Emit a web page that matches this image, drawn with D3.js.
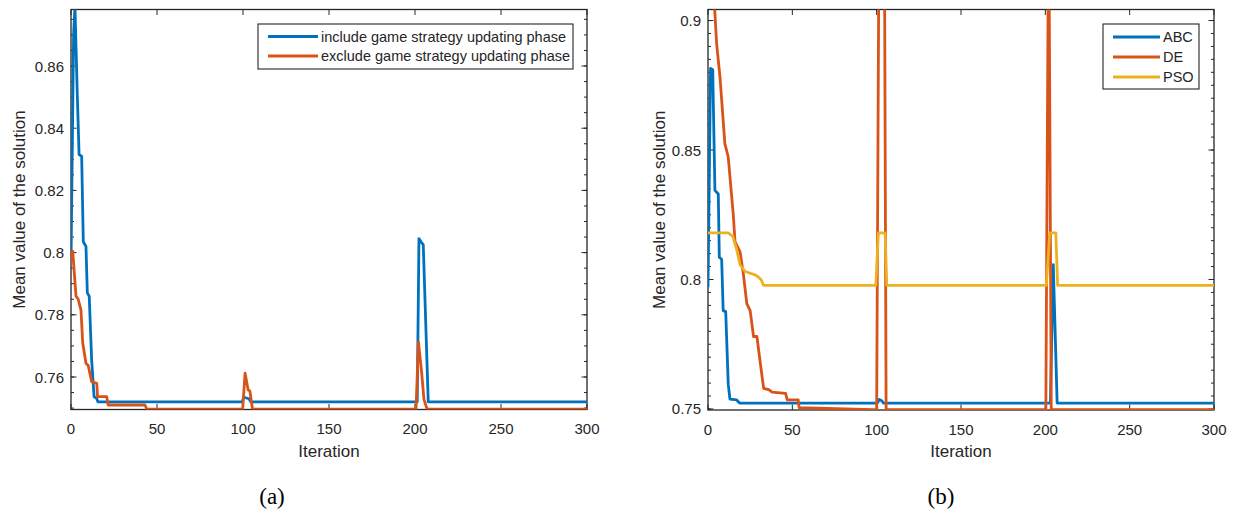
<!DOCTYPE html>
<html>
<head>
<meta charset="utf-8">
<script src="https://cdn.jsdelivr.net/npm/d3@7"></script>
<style>
  body { margin: 0; background: #fff; }
  text { font-family: "Liberation Sans", Arial, Helvetica, sans-serif; fill: #262626; }
</style>
</head>
<body>
<div id="chart"></div>
<script>
// ---- data ----
const iterTicks = [0, 50, 100, 150, 200, 250, 300];
const yTicksA = [0.76, 0.78, 0.8, 0.82, 0.84, 0.86];
const yTicksB = [0.75, 0.8, 0.85, 0.9];

// (a) include / exclude game strategy updating phase
const includeIter = [0, 1.5, 2.3, 3.7, 4.7, 6.2, 7.15, 8.7, 9.5, 10.6, 12, 13.4, 15, 15.7, 99.5, 100.5, 103.5, 104.5, 201.3, 202.3, 203.5, 204.8, 207.7, 300];
const includeVal  = [0.797, 0.87, 0.879, 0.85, 0.8315, 0.831, 0.8035, 0.802, 0.787, 0.786, 0.7655, 0.7537, 0.753, 0.752, 0.752, 0.7535, 0.753, 0.752, 0.752, 0.8045, 0.8035, 0.8025, 0.752, 0.752];

const excludeIter = [0, 1, 2.9, 4.2, 5.8, 6.8, 8.7, 10, 12, 15, 15.4, 20.7, 21.6, 43, 44, 99.8, 101.2, 103, 104, 105.5, 200.6, 202, 203.9, 205.2, 207, 300];
const excludeVal  = [0.797, 0.8005, 0.786, 0.785, 0.7815, 0.771, 0.7644, 0.7637, 0.7585, 0.758, 0.7537, 0.7537, 0.751, 0.751, 0.7497, 0.7497, 0.7612, 0.7558, 0.7555, 0.7497, 0.7497, 0.7713, 0.7612, 0.7528, 0.7497, 0.7497];

// (b) ABC / DE / PSO
const abcIter = [0, 1.5, 2.8, 4.1, 6.1, 6.7, 8.1, 9, 10.5, 12, 13, 17, 18.7, 100.5, 101.5, 103, 104, 203, 204.7, 207, 300];
const abcVal  = [0.797, 0.8815, 0.881, 0.8344, 0.833, 0.8086, 0.8078, 0.788, 0.7876, 0.7596, 0.7538, 0.7535, 0.7523, 0.7523, 0.7537, 0.7532, 0.7523, 0.7523, 0.8057, 0.7523, 0.7523];

const deIter = [0, 4, 5.1, 7.1, 10, 12, 15, 16, 19, 21, 23, 25, 27, 29, 31, 33, 36, 38, 46, 47, 53.5, 54, 98, 100, 101.5, 104.5, 105.6, 200.3, 202, 203.5, 300];
const deVal  = [0.91, 0.904, 0.8912, 0.8782, 0.8525, 0.8473, 0.825, 0.8146, 0.8107, 0.802, 0.7907, 0.788, 0.778, 0.778, 0.7677, 0.758, 0.7575, 0.7565, 0.756, 0.7535, 0.7535, 0.7505, 0.7497, 0.7497, 0.95, 0.95, 0.7497, 0.7497, 0.95, 0.7497, 0.7497];

const psoIter = [0, 12, 14.7, 17, 19, 22, 27.5, 29.5, 31.5, 33, 99.5, 101, 105, 106, 200.6, 202.6, 206.2, 207.3, 300];
const psoVal  = [0.818, 0.818, 0.8167, 0.8116, 0.8057, 0.8031, 0.8019, 0.8012, 0.7999, 0.7977, 0.7977, 0.818, 0.818, 0.7977, 0.7977, 0.818, 0.818, 0.7977, 0.7977];

const blue = "#0072BD", orange = "#D95319", yellow = "#EDB120";

const svg = d3.select("#chart").append("svg")
    .attr("width", 1233)
    .attr("height", 521);

function drawPanel(p) {
    const x = d3.scaleLinear().domain([0, 300]).range([p.left, p.right]);
    const y = d3.scaleLinear().domain(p.yDomain).range([p.bottom, p.top]);
    const g = svg.append("g");

    // clip for the lines
    g.append("clipPath").attr("id", p.id)
        .append("rect")
        .attr("x", p.left).attr("y", p.top)
        .attr("width", p.right - p.left).attr("height", p.bottom - p.top);

    // minor y ticks, left and right, pointing inwards
    const minor = d3.range(0.75, 0.905, 0.005).filter(v => v >= p.yDomain[0] && v <= p.yDomain[1]);
    const tk = g.append("g").attr("stroke", "#262626").attr("stroke-width", 1);
    minor.forEach(v => {
        tk.append("line").attr("x1", p.left).attr("x2", p.left + 3).attr("y1", y(v)).attr("y2", y(v));
        tk.append("line").attr("x1", p.right).attr("x2", p.right - 3).attr("y1", y(v)).attr("y2", y(v));
    });
    p.yTicks.forEach(v => {
        tk.append("line").attr("x1", p.left).attr("x2", p.left + 5.5).attr("y1", y(v)).attr("y2", y(v));
        tk.append("line").attr("x1", p.right).attr("x2", p.right - 5.5).attr("y1", y(v)).attr("y2", y(v));
    });
    iterTicks.forEach(v => {
        tk.append("line").attr("x1", x(v)).attr("x2", x(v)).attr("y1", p.bottom).attr("y2", p.bottom - 5.5);
        tk.append("line").attr("x1", x(v)).attr("x2", x(v)).attr("y1", p.top).attr("y2", p.top + 5.5);
    });

    // axes box
    g.append("rect")
        .attr("x", p.left).attr("y", p.top)
        .attr("width", p.right - p.left).attr("height", p.bottom - p.top)
        .attr("fill", "none").attr("stroke", "#262626").attr("stroke-width", 1.3);

    // tick labels
    g.selectAll("text.yt").data(p.yTicks).enter().append("text")
        .attr("class", "yt")
        .attr("x", p.left - 7).attr("y", d => y(d))
        .attr("text-anchor", "end").attr("dominant-baseline", "central")
        .style("font-size", "15px")
        .text(d => String(+d.toFixed(2)));
    g.selectAll("text.xt").data(iterTicks).enter().append("text")
        .attr("class", "xt")
        .attr("x", d => x(d)).attr("y", p.bottom + 19)
        .attr("text-anchor", "middle").attr("dominant-baseline", "central")
        .style("font-size", "15px")
        .text(d => d);

    // axis labels
    g.append("text")
        .attr("x", (p.left + p.right) / 2).attr("y", p.bottom + 47)
        .attr("text-anchor", "middle")
        .style("font-size", "17px")
        .text("Iteration");
    g.append("text")
        .attr("transform", `translate(${p.yLabelX}, ${(p.top + p.bottom) / 2}) rotate(-90)`)
        .attr("text-anchor", "middle")
        .style("font-size", "17px")
        .text("Mean value of the solution");

    // lines
    const line = d3.line().x(d => x(d[0])).y(d => y(d[1]));
    const lg = g.append("g").attr("clip-path", `url(#${p.id})`);
    p.series.forEach(s => {
        lg.append("path")
            .datum(d3.zip(s.iter, s.val))
            .attr("d", line)
            .attr("fill", "none")
            .attr("stroke", s.color)
            .attr("stroke-width", 2.8)
            .attr("stroke-linejoin", "round");
    });

    // legend
    const L = p.legend;
    g.append("rect")
        .attr("x", L.x).attr("y", L.y).attr("width", L.w).attr("height", L.h)
        .attr("fill", "#fff").attr("stroke", "#262626").attr("stroke-width", 1.1);
    p.series.forEach((s, i) => {
        const yy = L.y + L.first + i * L.step;
        g.append("line")
            .attr("x1", L.x + 10).attr("x2", L.x + 10 + L.len)
            .attr("y1", yy).attr("y2", yy)
            .attr("stroke", s.color).attr("stroke-width", 2.8);
        g.append("text")
            .attr("x", L.x + 13 + L.len).attr("y", yy)
            .attr("dominant-baseline", "central")
            .style("font-size", "14.5px")
            .text(s.name);
    });

    // caption
    svg.append("text")
        .attr("x", p.captionX).attr("y", 504)
        .attr("text-anchor", "middle")
        .style("font-family", "'Liberation Serif', 'Times New Roman', serif")
        .style("font-size", "23px")
        .style("fill", "#000")
        .text(p.caption);
}

drawPanel({
    id: "clipA", left: 71, right: 587, top: 9.5, bottom: 409.5,
    yDomain: [0.74955, 0.87817], yTicks: yTicksA, yLabelX: 25,
    series: [
        { name: "include game strategy updating phase", iter: includeIter, val: includeVal, color: blue },
        { name: "exclude game strategy updating phase", iter: excludeIter, val: excludeVal, color: orange }
    ],
    legend: { x: 258, y: 24, w: 315, h: 45, first: 12.5, step: 19.5, len: 50 },
    caption: "(a)", captionX: 272
});

drawPanel({
    id: "clipB", left: 708, right: 1214, top: 9.5, bottom: 410,
    yDomain: [0.74961, 0.90426], yTicks: yTicksB, yLabelX: 665,
    series: [
        { name: "ABC", iter: abcIter, val: abcVal, color: blue },
        { name: "DE", iter: deIter, val: deVal, color: orange },
        { name: "PSO", iter: psoIter, val: psoVal, color: yellow }
    ],
    legend: { x: 1103, y: 24, w: 96, h: 65, first: 13, step: 20, len: 47 },
    caption: "(b)", captionX: 941
});
</script>
</body>
</html>
